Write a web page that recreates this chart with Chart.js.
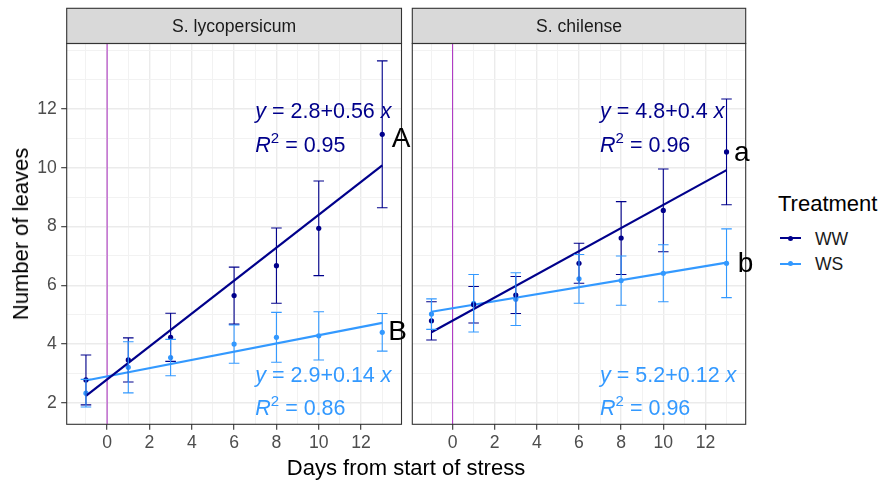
<!DOCTYPE html>
<html>
<head>
<meta charset="utf-8">
<script src="https://cdn.jsdelivr.net/npm/chart.js@4/dist/chart.umd.min.js"></script>
<style>
  body { margin: 0; background: #ffffff; font-family: "Liberation Sans", Arial, sans-serif; }
  #wrap { position: relative; width: 878px; height: 483px; overflow: hidden; }
  canvas { position: absolute; top: 0; }
  .txt { position: absolute; color: #000; white-space: nowrap; }
  .key { position: absolute; width: 21px; height: 2px; }
  .dot { position: absolute; width: 5px; height: 5px; border-radius: 50%; }
</style>
</head>
<body>
<div id="wrap">
  <canvas id="leftChart" width="420" height="483" style="left:0px"></canvas>
  <canvas id="rightChart" width="375" height="483" style="left:395px"></canvas>

  <div class="txt" style="left:21px; top:234px; font-size:22px; transform: translate(-50%, -50%) rotate(-90deg);">Number of leaves</div>
  <div class="txt" style="left:406px; top:468px; font-size:22px; transform: translate(-50%, -50%);">Days from start of stress</div>

  <div class="txt" style="left:778px; top:204px; font-size:22px; transform: translateY(-50%);">Treatment</div>
  <div class="key" style="left:780px; top:237px; background:#00008B;"></div>
  <div class="dot" style="left:788px; top:235.5px; background:#00008B;"></div>
  <div class="txt" style="left:815px; top:238.5px; font-size:17.6px; color:#1a1a1a; transform: translateY(-50%);">WW</div>
  <div class="key" style="left:780px; top:262.5px; background:#3399FF;"></div>
  <div class="dot" style="left:788px; top:261px; background:#3399FF;"></div>
  <div class="txt" style="left:815px; top:264px; font-size:17.6px; color:#1a1a1a; transform: translateY(-50%);">WS</div>
</div>

<script>
const days = [-1, 1, 3, 6, 8, 10, 13];

const lycoWW = [2.78, 3.46, 4.23, 5.65, 6.67, 7.94, 11.14];
const lycoWWErr = [0.85, 0.75, 0.82, 0.97, 1.28, 1.61, 2.5];
const lycoWS = [2.33, 3.21, 3.54, 4.0, 4.23, 4.28, 4.4];
const lycoWSErr = [0.47, 0.87, 0.62, 0.65, 0.85, 0.82, 0.64];

const chilWW = [4.79, 5.34, 5.67, 6.75, 7.61, 8.55, 10.54];
const chilWWErr = [0.65, 0.62, 0.63, 0.68, 1.24, 1.41, 1.8];
const chilWS = [5.02, 5.39, 5.53, 6.22, 6.16, 6.41, 6.75];
const chilWSErr = [0.52, 0.98, 0.9, 0.83, 0.84, 0.97, 1.17];

// fitted lines, read at both ends
const fitDays = [-1, 13];
const lycoWWFit = [2.24, 10.08];
const lycoWSFit = [2.76, 4.72];
const chilWWFit = [4.4, 9.92];
const chilWSFit = [5.1, 6.77];

const panels = ["S. lycopersicum", "S. chilense"];
const eqLyco = [["2.8", "0.56", "0.95"], ["2.9", "0.14", "0.86"]];
const eqChil = [["4.8", "0.4", "0.96"], ["5.2", "0.12", "0.96"]];
const lettersLyco = ["A", "B"];
const lettersChil = ["a", "b"];

const xTicks = [-1, 0, 1, 2, 3, 4, 5, 6, 7, 8, 9, 10, 11, 12, 13];
const xLabels = [0, 2, 4, 6, 8, 10, 12];
const yTicks = [2, 3, 4, 5, 6, 7, 8, 9, 10, 11, 12, 13, 14];
const yLabels = [2, 4, 6, 8, 10, 12];

const WW = "#00008B";
const WS = "#3399FF";
const FONT = '"Liberation Sans", Arial, sans-serif';

Chart.defaults.font.family = FONT;
Chart.defaults.animation = false;

function pts(ys, xs) {
    return ys.map((y, i) => ({ x: xs[i], y: y }));
}

function drawRich(ctx, parts, x, y, size, color) {
    let cx = x;
    ctx.fillStyle = color;
    ctx.textAlign = "left";
    ctx.textBaseline = "alphabetic";
    parts.forEach((p) => {
        const fs = p.sup ? size * 0.7 : size;
        ctx.font = (p.it ? "italic " : "") + fs + "px " + FONT;
        ctx.fillText(p.t, cx, p.sup ? y - size * 0.42 : y);
        cx += ctx.measureText(p.t).width;
    });
}

const facetPlugin = {
    id: "facet",
    beforeDatasetsDraw(chart, args, opts) {
        const { ctx, chartArea, scales } = chart;
        const px = scales.x.getPixelForValue(0);
        ctx.save();
        ctx.strokeStyle = "#B03CC4";
        ctx.lineWidth = 1.1;
        ctx.beginPath();
        ctx.moveTo(px, chartArea.top);
        ctx.lineTo(px, chartArea.bottom);
        ctx.stroke();
        ctx.restore();
    },
    afterDatasetsDraw(chart, args, opts) {
        const { ctx, scales } = chart;
        ctx.save();
        ctx.lineWidth = 1.1;
        opts.series.forEach((s) => {
            ctx.strokeStyle = s.color;
            s.values.forEach((v, i) => {
                const px = scales.x.getPixelForValue(days[i]);
                const half = scales.x.getPixelForValue(days[i] + 0.25) - px;
                const hi = scales.y.getPixelForValue(v + s.errs[i]);
                const lo = scales.y.getPixelForValue(v - s.errs[i]);
                ctx.beginPath();
                ctx.moveTo(px, hi);
                ctx.lineTo(px, lo);
                ctx.moveTo(px - half, hi);
                ctx.lineTo(px + half, hi);
                ctx.moveTo(px - half, lo);
                ctx.lineTo(px + half, lo);
                ctx.stroke();
            });
        });
        ctx.restore();
    },
    afterDraw(chart, args, opts) {
        const { ctx, chartArea, scales } = chart;
        const { left, right, top, bottom } = chartArea;
        ctx.save();
        // strip
        ctx.fillStyle = "#D9D9D9";
        ctx.fillRect(left, 8.3, right - left, top - 8.3);
        ctx.strokeStyle = "#333333";
        ctx.lineWidth = 1.1;
        ctx.strokeRect(left, 8.3, right - left, top - 8.3);
        ctx.strokeRect(left, top, right - left, bottom - top);
        ctx.fillStyle = "#1A1A1A";
        ctx.font = "17.6px " + FONT;
        ctx.textAlign = "center";
        ctx.textBaseline = "middle";
        ctx.fillText(opts.title, (left + right) / 2, 27);

        // equations
        const ex = scales.x.getPixelForValue(7);
        opts.eqs.forEach((e, k) => {
            const color = k === 0 ? WW : WS;
            const y1 = scales.y.getPixelForValue(opts.eqY[k][0]);
            const y2 = scales.y.getPixelForValue(opts.eqY[k][1]);
            drawRich(ctx, [
                { t: "y", it: true },
                { t: " = " + e[0] + "+" + e[1] + " " },
                { t: "x", it: true },
            ], ex, y1, 21.5, color);
            drawRich(ctx, [
                { t: "R", it: true },
                { t: "2", sup: true },
                { t: " = " + e[2] },
            ], ex, y2, 21.5, color);
        });

        // group letters
        ctx.fillStyle = "#000000";
        ctx.font = "28px " + FONT;
        ctx.textAlign = "center";
        ctx.textBaseline = "alphabetic";
        opts.letters.forEach((l, k) => {
            ctx.fillText(l, scales.x.getPixelForValue(opts.letterPos[k][0]),
                scales.y.getPixelForValue(opts.letterPos[k][1]));
        });
        ctx.restore();
    },
};

function makeChart(id, title, ww, wwErr, ws, wsErr, wwFit, wsFit, eqs, letters, letterPos, isLeft) {
    const canvas = document.getElementById(id);
    return new Chart(canvas, {
        type: "scatter",
        data: {
            datasets: [
                {
                    label: "WW",
                    data: pts(ww, days),
                    backgroundColor: WW,
                    borderWidth: 0,
                    pointRadius: 2.6,
                },
                {
                    label: "WW fit",
                    data: pts(wwFit, fitDays),
                    showLine: true,
                    borderColor: WW,
                    borderWidth: 2.2,
                    pointRadius: 0,
                },
                {
                    label: "WS",
                    data: pts(ws, days),
                    backgroundColor: WS,
                    borderWidth: 0,
                    pointRadius: 2.6,
                },
                {
                    label: "WS fit",
                    data: pts(wsFit, fitDays),
                    showLine: true,
                    borderColor: WS,
                    borderWidth: 2.2,
                    pointRadius: 0,
                },
            ],
        },
        options: {
            responsive: false,
            events: [],
            layout: {
                padding: isLeft
                    ? { top: 43.5, left: 0, right: 18.5, bottom: 34.7 }
                    : { top: 43.5, left: 17.3, right: 24.3, bottom: 34.7 },
            },
            plugins: {
                legend: { display: false },
                tooltip: { enabled: false },
                facet: {
                    title: title,
                    series: [
                        { values: ww, errs: wwErr, color: WW },
                        { values: ws, errs: wsErr, color: WS },
                    ],
                    eqs: eqs,
                    eqY: [[11.7, 10.54], [2.72, 1.6]],
                    letters: letters,
                    letterPos: letterPos,
                },
            },
            scales: {
                x: {
                    type: "linear",
                    min: -1.91,
                    max: 13.91,
                    afterBuildTicks: (scale) => {
                        scale.ticks = xTicks.map((v) => ({ value: v }));
                    },
                    afterFit: (scale) => {
                        scale.height = 24;
                    },
                    border: { display: false },
                    grid: {
                        color: (c) => (c.tick && xLabels.includes(c.tick.value) ? "#EBEBEB" : "#F2F2F2"),
                        lineWidth: (c) => (c.tick && xLabels.includes(c.tick.value) ? 1.4 : 1),
                        tickColor: (c) => (c.tick && xLabels.includes(c.tick.value) ? "#333333" : "rgba(0,0,0,0)"),
                        tickLength: 5.5,
                        tickWidth: 1.1,
                    },
                    ticks: {
                        autoSkip: false,
                        maxRotation: 0,
                        padding: 3,
                        color: "#4D4D4D",
                        font: { size: 17.6 },
                        callback: (v) => (xLabels.includes(v) ? String(v) : ""),
                    },
                },
                y: {
                    type: "linear",
                    min: 1.27,
                    max: 14.23,
                    afterBuildTicks: (scale) => {
                        scale.ticks = yTicks.map((v) => ({ value: v }));
                    },
                    afterFit: (scale) => {
                        scale.width = isLeft ? 66.7 : 0;
                    },
                    border: { display: false },
                    grid: {
                        color: (c) => (c.tick && yLabels.includes(c.tick.value) ? "#EBEBEB" : "#F2F2F2"),
                        lineWidth: (c) => (c.tick && yLabels.includes(c.tick.value) ? 1.4 : 1),
                        tickColor: (c) => (isLeft && c.tick && yLabels.includes(c.tick.value) ? "#333333" : "rgba(0,0,0,0)"),
                        tickLength: 5.5,
                        tickWidth: 1.1,
                    },
                    ticks: {
                        display: isLeft,
                        autoSkip: false,
                        padding: 4.5,
                        color: "#4D4D4D",
                        font: { size: 17.6 },
                        callback: (v) => (yLabels.includes(v) ? String(v) : ""),
                    },
                },
            },
        },
        plugins: [facetPlugin],
    });
}

makeChart("leftChart", panels[0], lycoWW, lycoWWErr, lycoWS, lycoWSErr, lycoWWFit, lycoWSFit,
    eqLyco, lettersLyco, [[13.89, 10.72], [13.73, 4.14]], true);
makeChart("rightChart", panels[1], chilWW, chilWWErr, chilWS, chilWSErr, chilWWFit, chilWSFit,
    eqChil, lettersChil, [[13.72, 10.24], [13.9, 6.47]], false);
</script>
</body>
</html>
